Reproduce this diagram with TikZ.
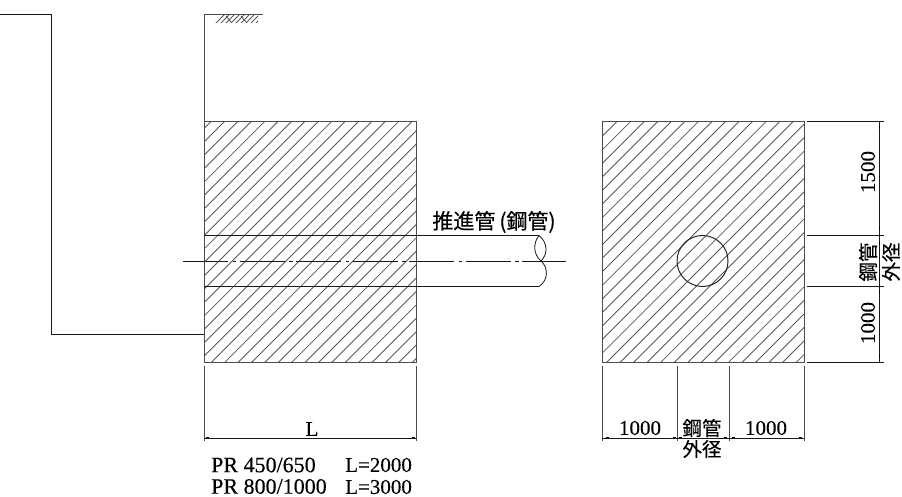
\documentclass[tikz,border=0pt]{standalone}
\usepackage{fontspec}
\setmainfont{Liberation Serif}
\newfontfamily\cjk{Noto Sans CJK JP}[FakeBold=0.35]
\newfontfamily\lat{Liberation Serif}[FakeBold=0.25]
\tikzset{
  ln/.style={draw=black!90,line width=1pt},
  ext/.style={draw=black!70,line width=1pt},
  hat/.style={draw=black!65,line width=0.85pt},
  lab/.style={inner sep=0pt,font=\lat\fontsize{21}{21}\selectfont,text=black},
  prl/.style={inner sep=0pt,font=\lat\fontsize{22}{22}\selectfont,text=black},
  cj/.style={inner sep=0pt,font=\cjk\fontsize{19.5}{20}\selectfont,text=black},
  tick/.style={draw=black,line width=1pt},
}
\begin{document}
\begin{tikzpicture}[x=1pt,y=-1pt]
\useasboundingbox (0,0) rectangle (902,497);
\fill[white] (0,0) rectangle (902,497);
% hatch
\begin{scope}
\clip (204,121.5) rectangle (416,362.5);
\foreach \k in {0,...,40} {\draw[hat] ({332.5+13.4*\k-400},400) -- ({332.5+13.4*\k},0);}
\end{scope}
\begin{scope}
\clip (602,121.5) rectangle (804,362.5);
\foreach \k in {0,...,40} {\draw[hat] ({725+13.55*\k-400},400) -- ({725+13.55*\k},0);}
\end{scope}
\begin{scope}
\clip (213,15) rectangle (258,23);
\foreach \k in {0,...,8} {\draw[hat,line width=0.9pt] ({224+5*\k-10},25) -- ({224+5*\k},15);}
\foreach \x in {226,241} {\draw[hat,line width=0.9pt] (\x,16) -- (\x+5,22);}
\end{scope}
% rectangles
\coordinate (a1) at (204,121.5); \coordinate (a2) at (416,362.5);
\coordinate (b1) at (602,121.5); \coordinate (b2) at (804,362.5);
\draw[ext] (a1) -- (a1 -| a2) (a2 -| a1) -- (a2);
\draw[ext] (b1) -- (b1 -| b2) (b2 -| b1) -- (b2);
\draw[ext] (a1) -- (a1 |- a2) (a1 -| a2) -- (a2);
\draw[ext] (b1) -- (b1 |- b2) (b1 -| b2) -- (b2);
% wall
\coordinate (w0) at (0,14.5); \coordinate (w1) at (51,14.5); \coordinate (w2) at (51,334); \coordinate (w3) at (204,334);
\draw[ln] (w0) -- (w1) -- (w2) -- (w3);
\coordinate (g1) at (263,15); \coordinate (g2) at (204,15); \coordinate (g3) at (204,121.5);
\draw[ext] (g1) -- (g2) -- (g3);
% pipe
\coordinate (p1) at (204,235.5); \coordinate (p2) at (539,235.5);
\coordinate (p3) at (204,286.5); \coordinate (p4) at (539,286.5);
\draw[ln] (p1) -- (p2) (p3) -- (p4);
\draw[ln,line width=0.8pt] (p2) .. controls (533,243) and (533,254) .. (541,261)
  .. controls (548,267) and (549,280) .. (p4);
\draw[ln,line width=0.8pt] (p2) .. controls (548,243) and (548,254) .. (541,261);
% centre line
\coordinate (c1) at (183,261); \coordinate (c2) at (566,261);
\draw[ln,dash pattern=on 45pt off 4.5pt on 3.5pt off 3.5pt] (c1) -- (c2);
% circle
\node[draw=black!85,line width=1pt,circle,minimum size=51pt,inner sep=0pt] (hole) at (702.5,261) {};
% bottom dims
\foreach \x/\n in {204/d1,416/d2,602/d3,677/d4,729/d5,804/d6} {
  \coordinate (\n t) at (\x,366); \coordinate (\n b) at (\x,441);
  \draw[ext] (\n t) -- (\n b);
}
\draw[ln] (d1t |- 0,438) -- (d2t |- 0,438);
\draw[ln] (d3t |- 0,438) -- (d6t |- 0,438);
% right dims
\foreach \y/\n in {121.5/e1,235.5/e2,286/e3,362.5/e4} {
  \coordinate (\n l) at (807,\y); \coordinate (\n r) at (884,\y);
  \draw[ln] (\n l) -- (\n r);
}
\draw[ln] (879,121.5) -- (879,362.5);
% ticks
\foreach \x in {207,413,607,674,680,725,733,800} \draw[tick] (\x-1.5,437) -- (\x+1.5,437);
\foreach \y in {128,228,243,278,292,356} \draw[tick] (879,\y-1.5) -- (879,\y+1.5);
% labels
\node[lab] (tL) at (312,429) {L};
\node[lab] (t1) at (640,428) {1000};
\node[lab] (t2) at (766,428) {1000};
\node[cj] (t3) at (702,428) {鋼管};
\node[cj] (t4) at (702,449) {外径};
\node[lab,rotate=90] (t5) at (868,172) {1500};
\node[lab,rotate=90] (t6) at (868,323) {1000};
\node[cj,rotate=90] (t7) at (868,262) {鋼管};
\node[cj,rotate=90] (t8) at (891,262) {外径};
\node[cj,font=\cjk\fontsize{21}{22}\selectfont] (t9) at (494,222) {推進管\hspace{4pt}(鋼管)};
\node[prl,anchor=west] (t10) at (211,465) {PR 450/650};
\node[lab,anchor=west] (t11) at (345,465) {L=2000};
\node[prl,anchor=west] (t12) at (211,486.5) {PR 800/1000};
\node[lab,anchor=west] (t13) at (345,487) {L=3000};
\end{tikzpicture}
\end{document}
